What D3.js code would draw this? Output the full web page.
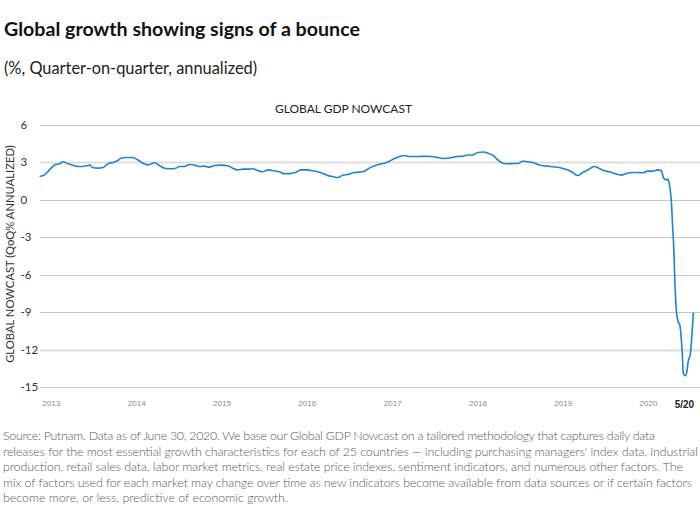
<!DOCTYPE html>
<html>
<head>
<meta charset="utf-8">
<script src="https://cdn.jsdelivr.net/npm/d3@7"></script>
<style>
  html, body { margin: 0; padding: 0; background: #fff; }
  svg { display: block; }
</style>
</head>
<body>
<svg id="chart" width="700" height="532"></svg>
<script>
// ---------- DATA ----------
const dates = [
  "2012-11-13","2012-12-04","2012-12-25","2013-01-16","2013-02-07","2013-02-21","2013-03-14","2013-04-05","2013-04-26","2013-05-25",
  "2013-06-16","2013-06-30","2013-07-21","2013-08-12","2013-09-02","2013-09-24","2013-10-14","2013-10-28","2013-11-19","2013-12-17",
  "2014-01-08","2014-01-29","2014-02-20","2014-03-20","2014-04-10","2014-05-02","2014-05-30","2014-06-20","2014-07-05","2014-07-26",
  "2014-08-17","2014-09-07","2014-09-28","2014-10-20","2014-11-10","2014-12-02","2014-12-30","2015-01-28","2015-02-18","2015-03-11",
  "2015-04-02","2015-04-23","2015-05-15","2015-06-05","2015-06-26","2015-07-18","2015-08-15","2015-09-06","2015-09-27","2015-10-19",
  "2015-11-16","2015-12-07","2016-01-05","2016-01-26","2016-02-17","2016-03-09","2016-03-30","2016-04-21","2016-05-13","2016-06-03",
  "2016-06-25","2016-07-23","2016-08-14","2016-09-04","2016-09-25","2016-10-17","2016-11-07","2016-11-29","2016-12-20","2017-01-11",
  "2017-02-02","2017-02-23","2017-03-16","2017-04-21","2017-05-19","2017-06-17","2017-07-15","2017-08-13","2017-09-10","2017-10-02",
  "2017-10-31","2017-11-21","2017-12-12","2018-01-03","2018-01-24","2018-02-15","2018-03-08","2018-03-29","2018-04-20","2018-05-11",
  "2018-06-02","2018-06-23","2018-07-14","2018-08-05","2018-08-26","2018-09-16","2018-10-08","2018-10-29","2018-11-20","2018-12-11",
  "2019-01-01","2019-01-23","2019-02-13","2019-03-06","2019-03-27","2019-04-18","2019-05-17","2019-06-07","2019-06-28","2019-07-20",
  "2019-08-11","2019-09-08","2019-09-29","2019-10-21","2019-11-11","2019-12-09","2019-12-31","2020-01-21","2020-02-12","2020-02-27",
  "2020-03-08","2020-03-20","2020-03-27","2020-04-04","2020-04-11","2020-04-15","2020-04-21","2020-04-25","2020-05-02","2020-05-09",
  "2020-05-16","2020-05-21","2020-05-27","2020-05-31","2020-06-08","2020-06-15","2020-06-22","2020-06-29","2020-07-06","2020-07-13"
];
const nowcast = [
  1.87,2.00,2.40,2.80,2.90,3.05,2.90,2.78,2.67,2.70,
  2.78,2.57,2.54,2.60,2.90,3.00,3.15,3.34,3.40,3.40,
  3.20,2.94,2.80,2.97,2.75,2.54,2.49,2.54,2.67,2.67,
  2.83,2.80,2.67,2.70,2.62,2.75,2.78,2.73,2.54,2.40,
  2.46,2.46,2.49,2.35,2.25,2.40,2.33,2.25,2.09,2.10,
  2.22,2.40,2.40,2.33,2.25,2.14,1.95,1.87,1.79,1.98,
  2.03,2.19,2.22,2.30,2.54,2.73,2.86,2.94,3.10,3.31,
  3.47,3.56,3.47,3.47,3.50,3.47,3.40,3.31,3.37,3.47,
  3.50,3.60,3.60,3.80,3.83,3.74,3.58,3.20,2.94,2.89,
  2.92,2.92,3.10,3.05,3.00,2.83,2.73,2.70,2.65,2.62,
  2.51,2.40,2.19,1.95,2.19,2.40,2.67,2.51,2.33,2.25,
  2.11,1.98,2.09,2.19,2.19,2.17,2.30,2.30,2.40,2.33,
  1.74,1.60,1.66,0.94,-0.40,-2.00,-4.15,-6.55,-8.96,-9.77,
  -10.0,-10.8,-12.4,-13.9,-14.1,-13.8,-12.84,-12.5,-11.1,-9.05
];
const yTicks = [6, 3, 0, -3, -6, -9, -12, -15];
const yearTickDates = ["2013-01-01","2014-01-01","2015-01-01","2016-01-01","2017-01-01","2018-01-01","2019-01-01","2020-01-01"];
const yearTickLabels = ["2013","2014","2015","2016","2017","2018","2019","2020"];
const lastTickDate = "2020-06-05";
const lastTickLabel = "5/20";

const titleText = "Global growth showing signs of a bounce";
const subtitleText = "(%, Quarter-on-quarter, annualized)";
const chartTitle = "GLOBAL GDP NOWCAST";
const yAxisTitle = "GLOBAL NOWCAST (QoQ% ANNUALIZED)";
const footnoteLines = [
  "Source: Putnam. Data as of June 30, 2020. We base our Global GDP Nowcast on a tailored methodology that captures daily data",
  "releases for the most essential growth characteristics for each of 25 countries \u2014 including purchasing managers' index data, industrial",
  "production, retail sales data, labor market metrics, real estate price indexes, sentiment indicators, and numerous other factors. The",
  "mix of factors used for each market may change over time as new indicators become available from data sources or if certain factors",
  "become more, or less, predictive of economic growth."
];

// ---------- CHART ----------
const parse = d3.timeParse("%Y-%m-%d");
const data = dates.map((d, i) => ({ date: parse(d), value: nowcast[i] }));

const svg = d3.select("#chart");
const FONT = "Lato, 'Noto Sans', sans-serif";

const x = d3.scaleTime()
  .domain([parse("2013-01-01"), parse("2020-01-01")])
  .range([51, 648]);
const y = d3.scaleLinear().domain([-15, 6]).range([387, 125]);

function fit(sel, target) {
  const w = sel.node().getComputedTextLength();
  const fs = parseFloat(sel.attr("font-size"));
  sel.attr("font-size", (fs * target / w).toFixed(2));
}

// titles
const t1 = svg.append("text").attr("x", 4).attr("y", 36)
  .attr("font-family", FONT).attr("font-weight", 700).attr("font-size", 20)
  .attr("fill", "#111").text(titleText);
fit(t1, 356);
const t2 = svg.append("text").attr("x", 4).attr("y", 74)
  .attr("font-family", FONT).attr("font-size", 16)
  .attr("fill", "#222").text(subtitleText);
fit(t2, 253);
const t3 = svg.append("text").attr("x", 343.5).attr("y", 113)
  .attr("text-anchor", "middle")
  .attr("font-family", FONT).attr("font-size", 12)
  .attr("fill", "#222").text(chartTitle);
fit(t3, 137);

// gridlines
svg.append("g").selectAll("line").data(yTicks).join("line")
  .attr("x1", 40).attr("x2", 700)
  .attr("y1", d => Math.round(y(d)) + 0.5).attr("y2", d => Math.round(y(d)) + 0.5)
  .attr("stroke", d => (d === 3 || d === -12) ? "#dedede" : "#c6c6c6")
  .attr("stroke-width", d => (d === 3 || d === -12) ? 2 : 1);

// y tick labels
svg.append("g").selectAll("text").data(yTicks).join("text")
  .attr("x", 20.5).attr("y", d => y(d) + 4)
  .attr("font-family", FONT).attr("font-size", 11.5)
  .attr("fill", "#333").text(d => d);

// y axis title
const yt = svg.append("text")
  .attr("transform", "translate(14,254) rotate(-90)")
  .attr("text-anchor", "middle")
  .attr("font-family", FONT).attr("font-size", 12)
  .attr("fill", "#333").text(yAxisTitle);
fit(yt, 218);

// x axis labels
const xAxis = d3.axisBottom(x)
  .tickValues(yearTickDates.map(parse))
  .tickFormat((d, i) => yearTickLabels[i])
  .tickSize(0).tickPadding(0);
const gx = svg.append("g").attr("transform", "translate(0,400)").call(xAxis);
gx.select(".domain").remove();
gx.selectAll("text")
  .attr("font-family", "'Liberation Sans', sans-serif")
  .attr("font-size", 8).attr("fill", "#8a8a8a").attr("dy", "0.71em");

svg.append("text").attr("x", x(parse(lastTickDate))).attr("y", 408)
  .attr("text-anchor", "middle")
  .attr("font-family", "'Liberation Sans', sans-serif").attr("font-weight", 700)
  .attr("font-size", 10).attr("fill", "#222").text(lastTickLabel);

// line
const line = d3.line().x(d => x(d.date)).y(d => y(d.value)).curve(d3.curveMonotoneX);
svg.append("path").datum(data)
  .attr("d", line).attr("fill", "none")
  .attr("stroke", "#1a86d0").attr("stroke-width", 1.6)
  .attr("stroke-linejoin", "round");

// footnote
const footWidths = [652, 695, 680, 689, null];
const fg = svg.append("g");
footnoteLines.forEach((ln, i) => {
  const t = fg.append("text").attr("x", 3).attr("y", 440 + i * 15.6)
    .attr("font-family", FONT).attr("font-weight", 300).attr("font-size", 12.4)
    .attr("fill", "#5a5a5a").text(ln);
  if (footWidths[i]) t.attr("textLength", footWidths[i]).attr("lengthAdjust", "spacing");
});
</script>
</body>
</html>
